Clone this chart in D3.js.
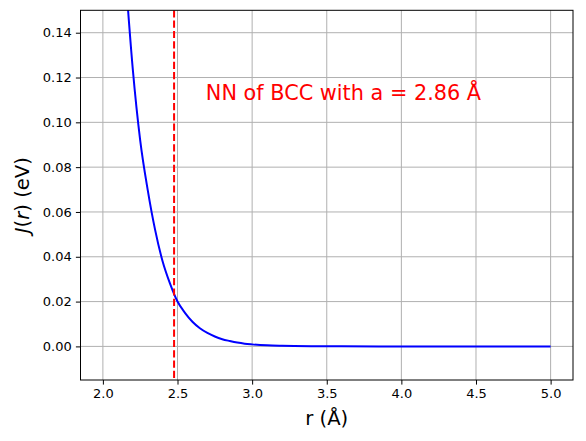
<!DOCTYPE html>
<html>
<head>
<meta charset="utf-8">
<script src="https://cdn.jsdelivr.net/npm/d3@7"></script>
<style>
  html, body { margin: 0; padding: 0; background: #fff; }
  svg { display: block; font-family: "DejaVu Sans", sans-serif; }
</style>
</head>
<body>
<svg id="chart" width="586" height="441"></svg>
<script>
// ---- data ----
const rValues = [2.15, 2.20, 2.25, 2.30, 2.35, 2.40, 2.45, 2.50, 2.55, 2.60, 2.65, 2.70, 2.75, 2.80, 2.85, 2.90, 2.95, 3.00, 3.10, 3.20, 3.40, 3.60, 4.00, 4.50, 5.00];
const jValues = [0.167, 0.124, 0.092, 0.070, 0.052, 0.038, 0.028, 0.020, 0.0150, 0.0110, 0.0081, 0.0060, 0.0044, 0.0032, 0.0024, 0.0017, 0.0012, 0.0009, 0.0005, 0.0003, 0.0001, 0.00003, 0, 0, 0];
const nnDistance = 2.477;
const xTicks = [2.0, 2.5, 3.0, 3.5, 4.0, 4.5, 5.0];
const yTicks = [0.00, 0.02, 0.04, 0.06, 0.08, 0.10, 0.12, 0.14];
const xDomain = [1.85, 5.15];
const yDomain = [-0.015, 0.15];
const annotation = { x: 2.69, y: 0.11, text: "NN of BCC with a = 2.86 Å" };

// ---- layout ----
const svg = d3.select("#chart");
const L = 80.5, R = 573, T = 10.3, B = 380;
const x = d3.scaleLinear().domain(xDomain).range([L, R]);
const y = d3.scaleLinear().domain(yDomain).range([B, T]);

svg.append("defs").append("clipPath").attr("id", "clip")
  .append("rect").attr("x", L).attr("y", T).attr("width", R - L).attr("height", B - T);

// grid
const grid = svg.append("g");
grid.selectAll(".gx").data(xTicks).enter().append("line")
  .attr("x1", d => x(d)).attr("x2", d => x(d)).attr("y1", T).attr("y2", B)
  .attr("stroke", "#b0b0b0").attr("stroke-width", 1);
grid.selectAll(".gy").data(yTicks).enter().append("line")
  .attr("x1", L).attr("x2", R).attr("y1", d => y(d)).attr("y2", d => y(d))
  .attr("stroke", "#b0b0b0").attr("stroke-width", 1);

// curve
const pts = rValues.map((r, i) => [r, jValues[i]]);
const line = d3.line().x(d => x(d[0])).y(d => y(d[1])).curve(d3.curveMonotoneX);
const plot = svg.append("g").attr("clip-path", "url(#clip)");
plot.append("path").datum(pts).attr("d", line)
  .attr("fill", "none").attr("stroke", "#0000ff").attr("stroke-width", 2);

// vertical dashed line
plot.append("line")
  .attr("x1", x(nnDistance)).attr("x2", x(nnDistance)).attr("y1", T).attr("y2", B)
  .attr("stroke", "#ff0000").attr("stroke-width", 2).attr("stroke-dasharray", "7.2,3.1");

// annotation
svg.append("text").attr("x", x(annotation.x)).attr("y", y(annotation.y))
  .attr("fill", "#ff0000").attr("font-size", "20.8px").text(annotation.text);

// axes
const xAxis = d3.axisBottom(x).tickValues(xTicks).tickFormat(d3.format(".1f")).tickSize(4.6).tickPadding(4.2);
const yAxis = d3.axisLeft(y).tickValues(yTicks).tickFormat(d3.format(".2f")).tickSize(4.6).tickPadding(4.2);
const gx = svg.append("g").attr("transform", `translate(0,${B})`).call(xAxis);
const gy = svg.append("g").attr("transform", `translate(${L},0)`).call(yAxis);
[gx, gy].forEach(g => {
  g.select(".domain").remove();
  g.selectAll("text").attr("font-size", "13px").attr("font-family", "DejaVu Sans").attr("fill", "#000");
  g.selectAll("line").attr("stroke", "#000").attr("stroke-width", 1);
});

// frame
svg.append("rect").attr("x", L).attr("y", T).attr("width", R - L).attr("height", B - T)
  .attr("fill", "none").attr("stroke", "#000").attr("stroke-width", 1);

// axis labels
svg.append("text").attr("x", (L + R) / 2).attr("y", 425).attr("text-anchor", "middle")
  .attr("font-size", "19.6px").text("r (Å)");
const yl = svg.append("text").attr("transform", `translate(29,${(T + B) / 2}) rotate(-90)`)
  .attr("text-anchor", "middle").attr("font-size", "19.6px");
yl.append("tspan").attr("font-style", "italic").text("J");
yl.append("tspan").text("(");
yl.append("tspan").attr("font-style", "italic").text("r");
yl.append("tspan").text(") (eV)");
</script>
</body>
</html>
